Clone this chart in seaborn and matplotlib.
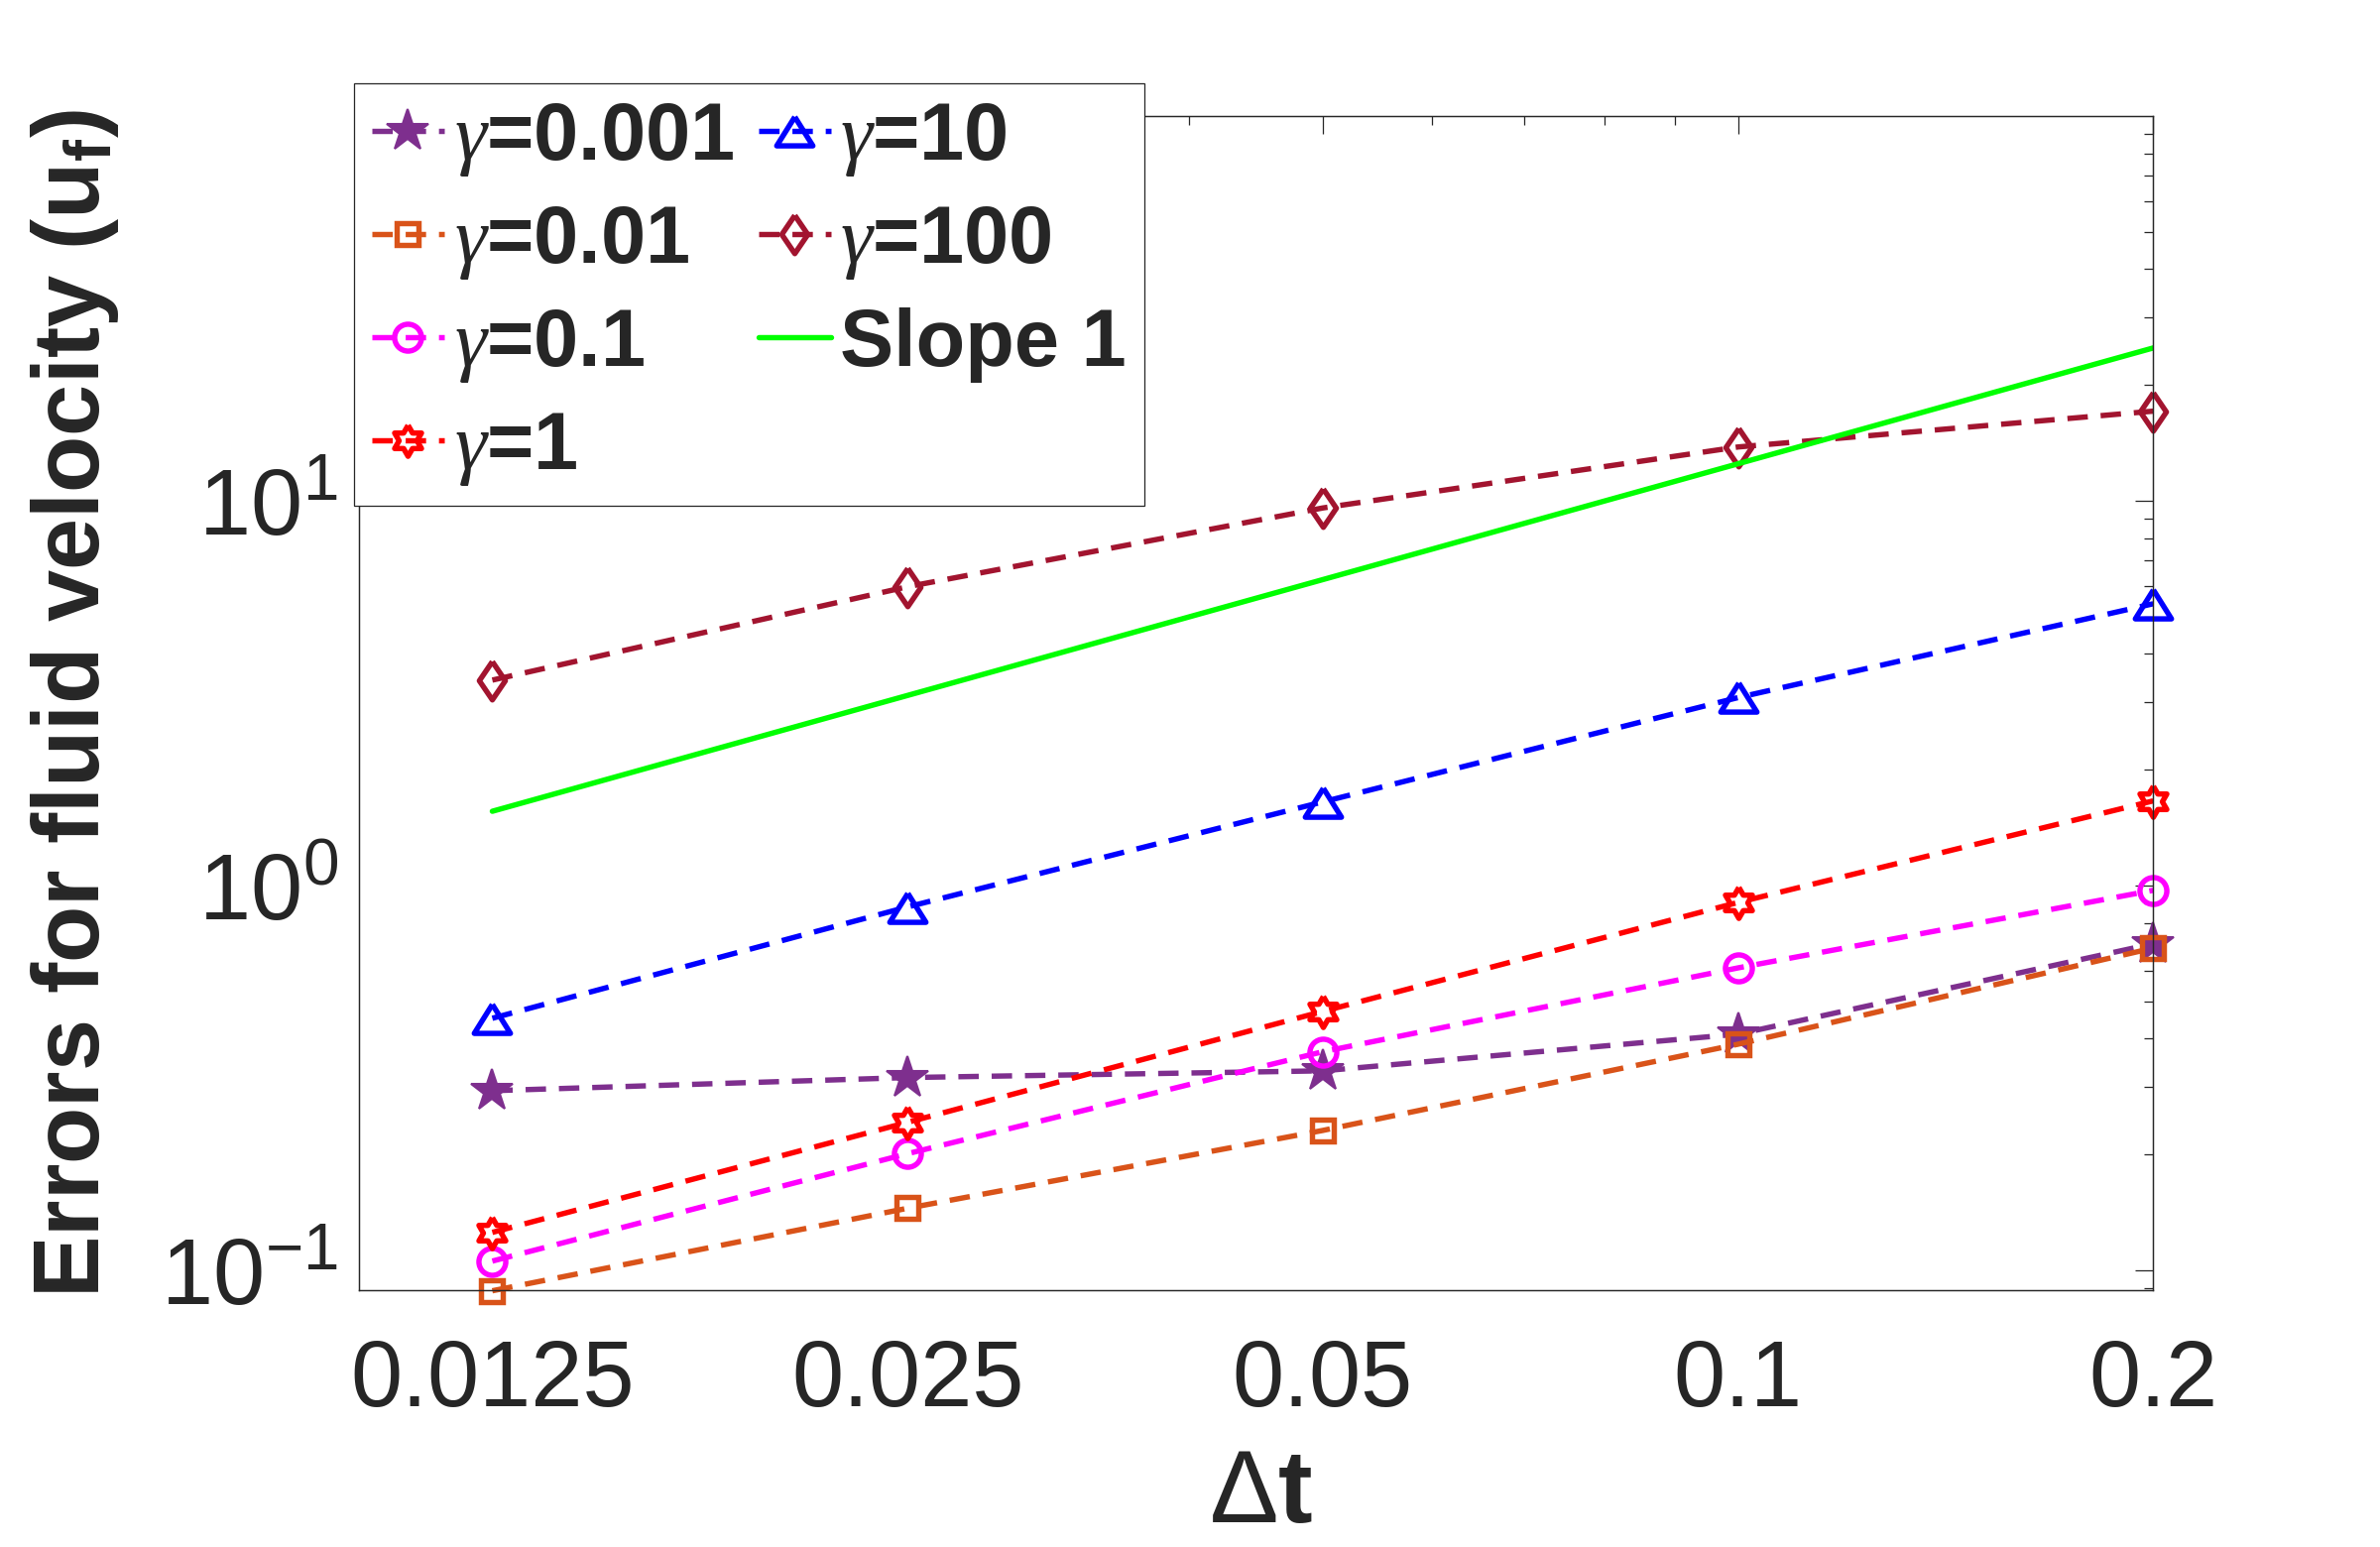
import numpy as np
import matplotlib
matplotlib.use("Agg")
from matplotlib import pyplot as plt
from matplotlib.ticker import NullFormatter
import seaborn as sns

sns.set_style("white")
plt.rcParams['font.family'] = ['Liberation Sans', 'DejaVu Sans']
plt.rcParams['mathtext.fontset'] = 'custom'
plt.rcParams['mathtext.rm'] = 'Liberation Sans'
plt.rcParams['mathtext.it'] = 'Liberation Serif:italic'
plt.rcParams['mathtext.bf'] = 'Liberation Sans:bold'

# time steps and errors
dt = [0.0125, 0.025, 0.05, 0.1, 0.2]
dt_labels = ['0.0125', '0.025', '0.05', '0.1', '0.2']
err_g0001 = [0.293, 0.317, 0.330, 0.411, 0.706]
err_g001 = [0.0885, 0.145, 0.231, 0.387, 0.688]
err_g01 = [0.1057, 0.201, 0.370, 0.611, 0.972]
err_g1 = [0.1255, 0.2425, 0.471, 0.904, 1.66]
err_g10 = [0.452, 0.88, 1.65, 3.08, 5.4]
err_g100 = [3.42, 5.98, 9.58, 13.8, 17.1]
slope_ref = [1.56, 3.12, 6.24, 12.48, 24.96]
gammas = ['0.001', '0.01', '0.1', '1', '10', '100']

# MATLAB-like marker shapes
tri = [(0, 0.8), (-1, -0.8), (1, -0.8), (0, 0.8)]
diamond = [(0, 1), (0.68, 0), (0, -1), (-0.68, 0), (0, 1)]
k = np.arange(13)
ang = np.deg2rad(90 + 30 * k)
rad = np.where(k % 2 == 0, 1.0, 1 / np.sqrt(3))
hexagram = list(zip(rad * np.cos(ang), rad * np.sin(ang)))

styles = [
    # color, marker, size, filled
    ('#7E2F8E', '*', 21, True),
    ('#D95319', 's', 10.5, False),
    ('#FF00FF', 'o', 13, False),
    ('#FF0000', hexagram, 15, False),
    ('#0000FF', tri, 17.5, False),
    ('#A2142F', diamond, 18.5, False),
]
series = [err_g0001, err_g001, err_g01, err_g1, err_g10, err_g100]

fig = plt.figure(figsize=(16, 10.4), dpi=150)
ax = fig.add_axes([0.1507, 0.1660, 0.754, 0.759])
ax.set_xscale('log')
ax.set_yscale('log')

for vals, g, (c, m, ms, filled) in zip(series, gammas, styles):
    sns.lineplot(x=dt, y=vals, ax=ax, color=c, marker=m, markersize=ms,
                 markerfacecolor=c if filled else 'none', markeredgecolor=c,
                 markeredgewidth=1 if filled else 2.6, linewidth=2.6,
                 linestyle=(0, (3.8, 2.4)), label=r'$\mathit{\gamma}$=' + g,
                 clip_on=False)

sns.lineplot(x=dt, y=slope_ref, ax=ax, color='#00FF00', linewidth=2.6,
             label='Slope 1')

ax.set_xlim(0.01, 0.2)
ax.set_xticks(dt, labels=dt_labels)
ax.xaxis.set_minor_formatter(NullFormatter())
ax.set_yticks([0.1, 1, 10])
ax.yaxis.set_minor_formatter(NullFormatter())
ax.set_ylim(0.0888, 100)

ax.tick_params(which='both', direction='in', top=True, right=True,
               color='#262626', width=0.6, labelcolor='#262626', labelsize=45)
ax.tick_params(which='major', length=8.8)
ax.tick_params(which='minor', length=4.4)
ax.tick_params(axis='x', pad=23)
ax.tick_params(axis='y', pad=10)
for sp in ax.spines.values():
    sp.set_linewidth(0.7)
    sp.set_color('#262626')

ax.set_xlabel(r'$\Delta$t', fontsize=50, fontweight='bold', color='#262626')
ax.set_ylabel(r'Errors for fluid velocity ($\mathbf{u}_\mathbf{f}$)', fontsize=45,
              fontweight='bold', color='#262626')
ax.xaxis.set_label_coords(0.5025, -0.134)
ax.yaxis.set_label_coords(-0.1326, 0.5)

handles, labels = ax.get_legend_handles_labels()
leg = ax.legend(handles, labels, ncol=2, loc='upper left',
                bbox_to_anchor=(357 / 2400, 1 - 84 / 1560),
                bbox_transform=fig.transFigure, borderaxespad=0,
                prop={'weight': 'bold', 'size': 39}, handlelength=0.9,
                handletextpad=0.12, columnspacing=0.3, labelspacing=0.32,
                borderpad=0.22, fancybox=False, framealpha=1)
leg.get_frame().set_edgecolor('#262626')
leg.get_frame().set_linewidth(0.6)

fig.savefig('out.png', dpi=150)
